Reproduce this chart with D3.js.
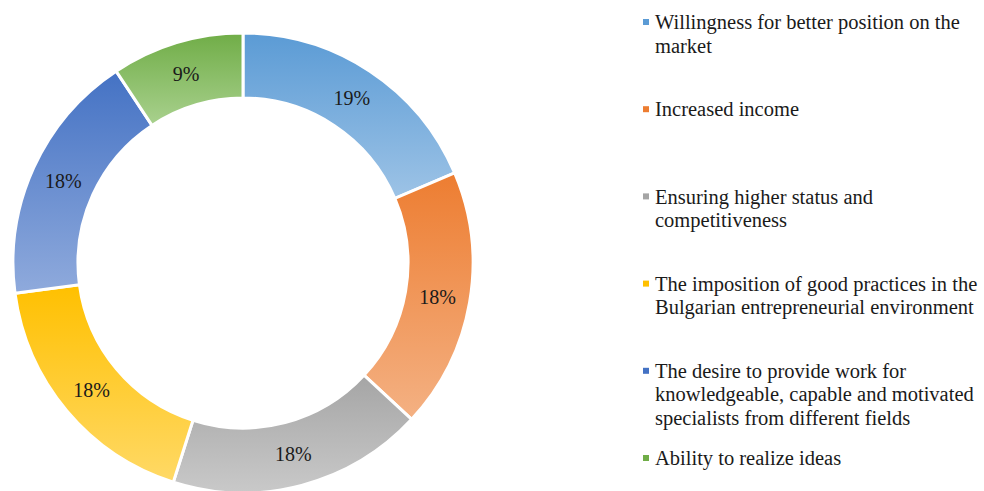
<!DOCTYPE html>
<meta charset="utf-8">
<script src="https://d3js.org/d3.v7.min.js"></script>
<style>
  body { margin: 0; background: #fff; }
</style>
<div id="chart"></div>
<script>
// data
const categories = [
  "Willingness for better position on the market",
  "Increased income",
  "Ensuring higher status and competitiveness",
  "The imposition of good practices in the Bulgarian entrepreneurial environment",
  "The desire to provide work for knowledgeable, capable and motivated specialists from different fields",
  "Ability to realize ideas"
];
// shares (labels show them rounded)
const shares = [18.6, 18.3, 18.0, 18.0, 17.8, 9.3];
// legend lines as wrapped in the original
const legendLines = [
  ["Willingness for better position on the", "market"],
  ["Increased income"],
  ["Ensuring higher status and", "competitiveness"],
  ["The imposition of good practices in the", "Bulgarian entrepreneurial environment"],
  ["The desire to provide work for", "knowledgeable, capable and motivated", "specialists from different fields"],
  ["Ability to realize ideas"]
];
// top / bottom gradient colours
const topColors = ["#5b9bd5", "#ed7d31", "#a5a5a5", "#ffc000", "#4472c4", "#70ad47"];
const bottomColors = ["#9dc3e6", "#f4b183", "#c9c9c9", "#ffd966", "#8faadc", "#a9d18e"];

const width = 984, height = 491;
const cx = 243, cy = 263, outerR = 230, innerR = 165;
const serif = "'Liberation Serif'";

const svg = d3.select("#chart").append("svg")
  .attr("width", width)
  .attr("height", height)
  .attr("font-family", serif);

const defs = svg.append("defs");
categories.forEach((c, i) => {
  const g = defs.append("linearGradient")
    .attr("id", "grad" + i)
    .attr("x1", 0).attr("y1", 0).attr("x2", 0).attr("y2", 1);
  g.append("stop").attr("offset", "0%").attr("stop-color", topColors[i]);
  g.append("stop").attr("offset", "100%").attr("stop-color", bottomColors[i]);
});

const pie = d3.pie().sort(null).value(d => d)(shares);
const arc = d3.arc().innerRadius(innerR).outerRadius(outerR);

const donut = svg.append("g").attr("transform", `translate(${cx},${cy})`);

donut.selectAll("path")
  .data(pie)
  .join("path")
  .attr("d", arc)
  .attr("fill", (d, i) => `url(#grad${i})`)
  .attr("stroke", "#fff")
  .attr("stroke-width", 3);

donut.selectAll("text.lbl")
  .data(pie)
  .join("text")
  .attr("class", "lbl")
  .attr("transform", d => `translate(${arc.centroid(d)})`)
  .attr("text-anchor", "middle")
  .attr("dy", "0.35em")
  .attr("font-family", serif)
  .attr("font-size", 20)
  .attr("fill", "#1a1a1a")
  .text(d => Math.round(d.data) + "%");

// legend
const legend = svg.append("g").attr("transform", "translate(643,22)");
const step = 87.2, lineH = 23.5;

const item = legend.selectAll("g")
  .data(categories)
  .join("g")
  .attr("transform", (d, i) => `translate(0,${i * step})`);

item.append("rect")
  .attr("x", 0).attr("y", -3)
  .attr("width", 6).attr("height", 6)
  .attr("fill", (d, i) => topColors[i]);

item.each(function(d, i) {
  const t = d3.select(this).append("text")
    .attr("x", 12)
    .attr("y", 0)
    .attr("font-family", serif)
    .attr("font-size", 20.5)
    .attr("fill", "#1a1a1a");
  legendLines[i].forEach((ln, k) => {
    t.append("tspan")
      .attr("x", 12)
      .attr("y", k * lineH)
      .attr("dy", "0.35em")
      .text(ln);
  });
});
</script>
